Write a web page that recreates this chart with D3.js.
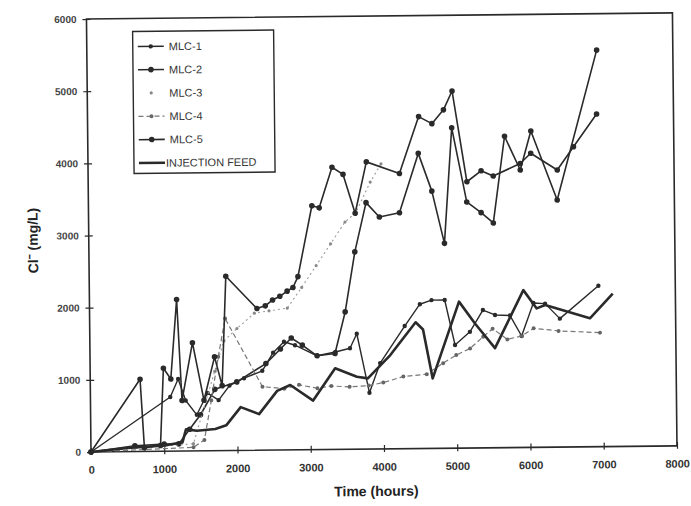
<!DOCTYPE html>
<html><head><meta charset="utf-8">
<script src="https://cdn.jsdelivr.net/npm/d3@7"></script>
<style>body{margin:0;background:#fff}svg{display:block}</style>
</head><body><svg id="c" width="691" height="506"></svg>
<script>
const xTicks=[0,1000,2000,3000,4000,5000,6000,7000,8000];
const yTicks=[0,1000,2000,3000,4000,5000,6000];
const seriesNames=["MLC-1","MLC-2","MLC-3","MLC-4","MLC-5","INJECTION FEED"];
const mlc1=[[0,0],[1090,750],[1200,1000],[1300,700],[1450,500],[1600,800],[1750,700],[1900,900],[2100,1000],[2350,1100],[2500,1350],[2650,1500],[2800,1450],[3100,1300],[3350,1350],[3550,1400],[3645,1600],[3810,780],[3960,1190],[4300,1700],[4510,2000],[4670,2055],[4850,2055],[4985,1430],[5190,1610],[5370,1910],[5535,1840],[5740,1830],[5895,1545],[6060,2000],[6220,1990],[6420,1780],[6950,2230]];
const mlc2=[[0,0],[600,80],[1000,100],[1200,100],[1350,300],[1500,500],[1700,850],[2000,950],[2400,1200],[2600,1400],[2750,1550],[2900,1450],[3100,1300],[3345,1330],[3490,1905],[3630,2735],[3790,3415],[3970,3215],[4245,3270],[4510,4090],[4690,3565],[4855,2840],[4970,4440],[5165,3410],[5360,3260],[5525,3115],[5690,4315],[5900,3845],[6050,4385],[6400,3425],[6960,5495]];
const mlc3=[[0,0],[1400,100],[1700,1100],[1830,1520],[2010,1690],[2250,1900],[2450,1930],[2700,1965],[2900,2250],[3100,2550],[3300,2850],[3500,3150],[3650,3280],[3850,3700],[4000,3950]];
const mlc4=[[0,0],[1400,50],[1550,150],[1650,700],[1750,1300],[1850,1830],[2350,880],[2650,850],[2850,900],[3100,850],[3290,880],[3540,865],[3800,880],[4000,920],[4275,1000],[4595,1030],[4820,1180],[5000,1290],[5190,1380],[5370,1540],[5500,1650],[5700,1500],[5895,1545],[6060,1650],[6400,1610],[6966,1580]];
const mlc5=[[0,0],[680,1000],[730,50],[950,80],[1000,1150],[1100,1000],[1190,2100],[1250,700],[1400,1500],[1550,700],[1700,1300],[1800,900],[1865,2415],[2285,1965],[2400,2000],[2500,2080],[2600,2130],[2700,2200],[2780,2250],[2850,2400],[3050,3380],[3150,3350],[3330,3910],[3480,3810],[3640,3270],[3800,3980],[4250,3815],[4520,4600],[4700,4500],[4860,4690],[4980,4950],[5170,3690],[5365,3840],[5530,3765],[5900,3935],[6045,4075],[6405,3840],[6630,4160],[6950,4610]];
const feed=[[0,0],[500,50],[1000,80],[1250,120],[1300,300],[1450,280],[1700,300],[1850,350],[2050,600],[2300,500],[2550,820],[2730,900],[3040,680],[3345,1125],[3640,1005],[3790,980],[4100,1300],[4450,1750],[4550,1650],[4675,970],[5045,2030],[5260,1725],[5530,1380],[5925,2180],[6105,1925],[6220,1970],[6830,1780],[7145,2120]];

const svg=d3.select("#c");
const W=691,H=506;
svg.append("rect").attr("width",W).attr("height",H).attr("fill","#fff");
const x=d3.scaleLinear().domain([0,8000]).range([91,677]);
const y=d3.scaleLinear().domain([0,6000]).range([452,19]);
const g=svg.append("g").attr("transform","rotate(-0.6,91,452)");
const ink="#2a2a2a";
const font="Arial, 'Liberation Sans', sans-serif";
g.append("rect").attr("x",x(0)).attr("y",y(6000)).attr("width",x(8000)-x(0)).attr("height",y(0)-y(6000))
 .attr("fill","none").attr("stroke",ink).attr("stroke-width",1.6);
const xa=g.append("g").attr("transform",`translate(0,${y(0)})`).call(d3.axisBottom(x).tickValues(xTicks).tickSize(4).tickFormat(d3.format("d")));
xa.select(".domain").remove();
xa.selectAll(".tick line").attr("y1",-4).attr("y2",3).attr("stroke",ink).attr("stroke-width",1.2);
xa.selectAll(".tick text").attr("y",14).attr("font-family",font).attr("font-size",11).attr("fill","#333").attr("font-weight","bold");
const ya=g.append("g").attr("transform",`translate(${x(0)},0)`).call(d3.axisLeft(y).tickValues(yTicks).tickSize(4).tickFormat(d3.format("d")));
ya.select(".domain").remove();
ya.selectAll(".tick line").attr("x1",-4).attr("x2",4).attr("stroke",ink).attr("stroke-width",1.2);
ya.selectAll(".tick text").attr("x",-10).attr("font-family",font).attr("font-size",10).attr("fill","#444").attr("font-weight","bold");
g.append("text").attr("x",376).attr("y",499).attr("text-anchor","middle").attr("font-family",font).attr("font-size",14).attr("font-weight","bold").attr("fill","#222").text("Time (hours)");
g.append("text").attr("transform","translate(40,240) rotate(-90)").attr("text-anchor","middle").attr("font-family",font).attr("font-size",14).attr("font-weight","bold").attr("fill","#222").text("Cl\u207B (mg/L)");

const line=d3.line().x(d=>x(d[0])).y(d=>y(d[1]));
const styles=[
 {data:mlc1,stroke:ink,w:1.4,dash:null,r:2.2,fill:ink},
 {data:mlc2,stroke:ink,w:1.6,dash:null,r:2.8,fill:ink},
 {data:mlc3,stroke:"#9a9a9a",w:1.1,dash:"2,3",r:1.6,fill:"#888"},
 {data:mlc4,stroke:"#777",w:1.2,dash:"5,3",r:2,fill:"#666"},
 {data:mlc5,stroke:ink,w:1.6,dash:null,r:2.8,fill:ink},
 {data:feed,stroke:ink,w:2.6,dash:null,r:0,fill:ink}
];
styles.forEach(s=>{
  g.append("path").datum(s.data).attr("d",line).attr("fill","none").attr("stroke",s.stroke).attr("stroke-width",s.w).attr("stroke-dasharray",s.dash).attr("stroke-linejoin","round");
  if(s.r>0) g.append("g").selectAll("circle").data(s.data).join("circle").attr("cx",d=>x(d[0])).attr("cy",d=>y(d[1])).attr("r",s.r).attr("fill",s.fill);
});
const lg=g.append("g");
lg.append("rect").attr("x",137).attr("y",32).attr("width",141).attr("height",142).attr("fill","#fff").attr("stroke",ink).attr("stroke-width",1.4);
seriesNames.forEach((n,i)=>{
  const s=styles[i]; const yy=47+i*23.3;
  if(i!==2) lg.append("line").attr("x1",142).attr("x2",168).attr("y1",yy).attr("y2",yy).attr("stroke",s.stroke).attr("stroke-width",s.w).attr("stroke-dasharray",s.dash);
  if(s.r>0) lg.append("circle").attr("cx",155).attr("cy",yy).attr("r",s.r).attr("fill",s.fill);
  lg.append("text").attr("x",i===5?169:173).attr("y",yy+4).attr("font-family",font).attr("font-size",11).attr("fill","#333").text(n);
});
</script></body></html>
